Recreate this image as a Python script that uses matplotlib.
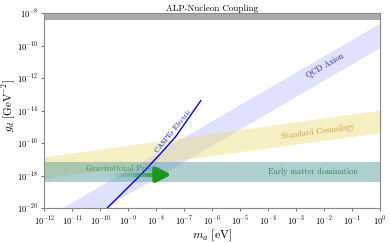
import matplotlib
matplotlib.use("Agg")
import matplotlib.pyplot as plt
import numpy as np
from matplotlib.collections import LineCollection

plt.rcParams["font.family"] = "cmr10"
plt.rcParams["mathtext.fontset"] = "cm"
plt.rcParams["axes.formatter.use_mathtext"] = True

# band edges, read as log10 values at m_a = 1e-12 and 1 eV
band_logm = [-12.0, 0.0]
qcd_upper = [-20.6, -8.6]
qcd_lower = [-22.1, -10.1]
cosmo_upper = [-16.83, -13.95]
cosmo_lower = [-18.13, -15.34]

# early matter domination (horizontal band) and the excluded grey strip
emd_range = [4e-19, 7.5e-18]
grey_range = [3.9e-9, 1e-8]

# CASPEr Electric projected sensitivity (log10 m, log10 g)
casper_logm = [-9.76, -8.55, -7.83, -7.30, -6.40]
casper_logg = [-20.0, -17.94, -16.61, -15.59, -13.37]

# gravitational probes arrow
grav_start = 1.3e-10
grav_head = 1.1e-8
grav_tip = 3.6e-8
grav_g = 1.2e-18

xticks = [10.0**k for k in range(-12, 1)]
yticks = [10.0**k for k in range(-20, -7, 2)]

fig = plt.figure(figsize=(3.9, 2.43), dpi=100)
ax = fig.add_axes([0.113, 0.142, 0.861, 0.803])
ax.set_xscale("log")
ax.set_yscale("log")

m = 10.0**np.array(band_logm)
ax.fill_between(m, 10.0**np.array(qcd_lower), 10.0**np.array(qcd_upper),
                color="blue", alpha=0.12, lw=0)
ax.fill_between(m, 10.0**np.array(cosmo_lower), 10.0**np.array(cosmo_upper),
                color="#e8d96a", alpha=0.4, lw=0)
ax.axhspan(emd_range[0], emd_range[1], color="cadetblue", alpha=0.5, lw=0)
ax.axhspan(grey_range[0], grey_range[1], color="#aaaaaa", lw=0)

ax.plot(10.0**np.array(casper_logm), 10.0**np.array(casper_logg),
        color="blue", lw=1.0)

# arrow shaft fading in from the left
xs = np.logspace(np.log10(grav_start), np.log10(grav_head), 40)
segs = [[(xs[i], grav_g), (xs[i + 1], grav_g)] for i in range(len(xs) - 1)]
alphas = np.linspace(0.0, 0.9, len(segs)) ** 1.5
cols = [(0.1, 0.6, 0.1, a) for a in alphas]
ax.add_collection(LineCollection(segs, colors=cols, lw=3.0, capstyle="butt"))
ax.annotate("", xy=(grav_tip, grav_g), xytext=(grav_head, grav_g),
            arrowprops=dict(arrowstyle="-|>,head_length=0.9,head_width=0.45",
                            color=(0.1, 0.6, 0.1), lw=3.0, shrinkA=0, shrinkB=0))

ax.text(6.5e-10, 2.6e-18, "Gravitational Probes", color="#3a9a3a",
        fontsize=5.8, ha="center", va="center", zorder=6)
ax.text(4e-3, 1.8e-18, "Early matter domination", color="#2e8b57",
        fontsize=5.9, ha="center", va="center")
ax.text(6e-3, 5.5e-16, "Standard Cosmology", color="#c8a030",
        fontsize=5.8, ha="center", va="center", rotation=8)
ax.text(1.1e-2, 5.7e-12, "QCD Axion", color="#2a2a9a",
        fontsize=5.8, ha="center", va="center", rotation=30)
ax.text(4.1e-8, 5.8e-16, "CASPEr Electric", color="blue",
        fontsize=5.2, ha="center", va="center", rotation=51)

ax.set_xlim(1e-12, 1)
ax.set_ylim(1e-20, 1e-8)
ax.set_xticks(xticks)
ax.set_yticks(yticks)
ax.minorticks_off()
ax.tick_params(labelsize=6.0, length=2.5, width=0.6, color="#555555", pad=2)
for s in ax.spines.values():
    s.set_color("#888888")
    s.set_linewidth(0.8)

ax.set_xlabel(r"$m_a\ [\mathrm{eV}]$", fontsize=8.5, labelpad=0)
ax.set_ylabel(r"$g_d\ [\mathrm{GeV}^{-2}]$", fontsize=8.0, va="center")
ax.yaxis.set_label_coords(-0.103, 0.53)
ax.set_title("ALP-Nucleon Coupling", fontsize=6.5, pad=2)

fig.savefig("out.png", dpi=100)
